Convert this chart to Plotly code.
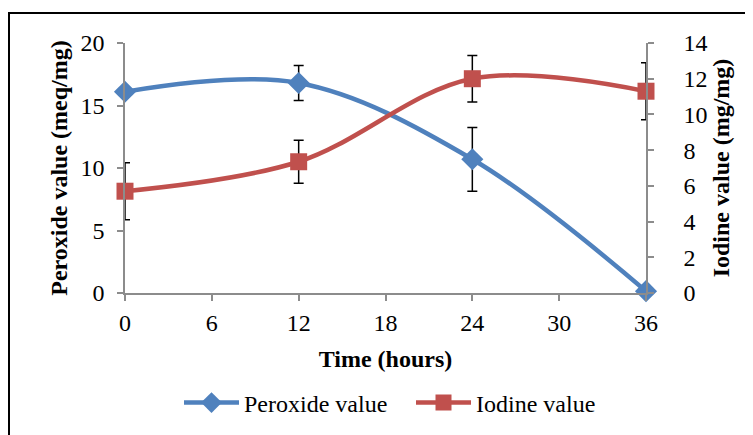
import plotly.graph_objects as go

time_hours = [0, 12, 24, 36]
peroxide_value = [16.1, 16.8, 10.7, 0.15]
peroxide_err = [0.3, 1.4, 2.55, 0.0]
iodine_value = [5.7, 7.35, 12.0, 11.3]
iodine_err = [1.6, 1.2, 1.3, 1.6]
x_ticks = [0, 6, 12, 18, 24, 30, 36]

FONT = "Liberation Serif"
AXIS_GRAY = "#8c8c8c"
FS = 24

fig = go.Figure()
fig.add_trace(go.Scatter(
    x=time_hours, y=peroxide_value, name="Peroxide value",
    mode="lines+markers", line=dict(color="#4F81BD", width=4.5, shape="spline", smoothing=1.0),
    marker=dict(symbol="diamond", size=17, color="#4F81BD"),
    error_y=dict(type="data", array=peroxide_err, color="black", thickness=1.5, width=5),
    cliponaxis=False, yaxis="y"))
fig.add_trace(go.Scatter(
    x=time_hours, y=iodine_value, name="Iodine value",
    mode="lines+markers", line=dict(color="#C0504D", width=4.5, shape="spline", smoothing=1.0),
    marker=dict(symbol="square", size=17, color="#C0504D"),
    error_y=dict(type="data", array=iodine_err, color="black", thickness=1.5, width=5),
    cliponaxis=False, yaxis="y2"))

fig.update_layout(
    width=745, height=427,
    margin=dict(l=117, r=107, t=35, b=142, autoexpand=False),
    paper_bgcolor="white", plot_bgcolor="white",
    font=dict(family=FONT, size=FS, color="black"),
    showlegend=True,
    legend=dict(orientation="h", x=(177 - 6 - 117) / 521, xanchor="left", y=-0.44, yanchor="middle",
                font=dict(family=FONT, size=FS), itemwidth=55, entrywidth=162,
                bgcolor="rgba(0,0,0,0)"),
    xaxis=dict(range=[0, 36], tickvals=x_ticks, showgrid=False, zeroline=False,
               showline=True, linecolor=AXIS_GRAY, linewidth=1.5,
               ticks="outside", ticklen=6, tickcolor=AXIS_GRAY, tickwidth=1.5,
               ticklabelstandoff=1,
               title=dict(text="<b>Time (hours)</b>", standoff=16, font=dict(size=FS))),
    yaxis=dict(range=[0, 20], tickvals=[0, 5, 10, 15, 20], showgrid=False, zeroline=False,
               showline=True, linecolor=AXIS_GRAY, linewidth=1.5,
               ticks="outside", ticklen=6, tickcolor=AXIS_GRAY, tickwidth=1.5,
               ticklabelstandoff=8,
               title=dict(text="<b>Peroxide value (meq/mg)</b>", standoff=6, font=dict(size=FS))),
    yaxis2=dict(range=[0, 14], tickvals=[0, 2, 4, 6, 8, 10, 12, 14], overlaying="y", side="right",
                showgrid=False, zeroline=False, anchor="x",
                showline=True, linecolor=AXIS_GRAY, linewidth=1.5,
                ticks="outside", ticklen=6, tickcolor=AXIS_GRAY, tickwidth=1.5,
                ticklabelstandoff=25,
                title=dict(text="<b>Iodine value (mg/mg)</b>", standoff=5, font=dict(size=FS))),
    shapes=[dict(type="rect", xref="paper", yref="paper",
                 x0=(1 - 117) / 521, x1=2.0, y0=-2.0, y1=(285 - 5) / 250,
                 line=dict(color="black", width=2), fillcolor="rgba(0,0,0,0)", layer="below")],
)

fig.write_html("out.html")
